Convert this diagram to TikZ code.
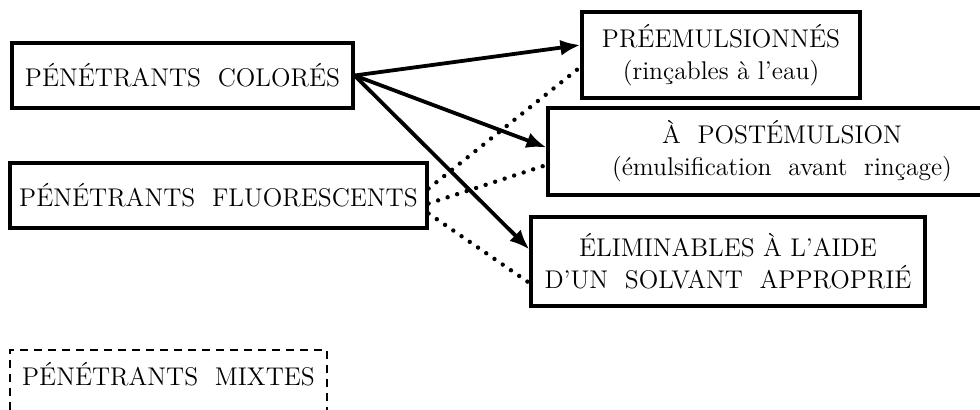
\documentclass[tikz,border=0pt]{standalone}
\usepackage{tikz}
\usetikzlibrary{arrows.meta,positioning}

\begin{document}
\begin{tikzpicture}[
  x=0.5pt, y=-0.5pt,
  box/.style={draw, line width=1.6pt, align=center, inner sep=0pt,
              font=\fontsize{12.8}{16}\selectfont},
  mixbox/.style={draw, dashed, dash pattern=on 4pt off 3pt, line width=1.3pt,
              inner sep=0pt, font=\fontsize{12.8}{16}\selectfont},
  arr/.style={line width=1.9pt, -{Latex[length=10pt,width=8pt]}},
  dots/.style={line width=2.2pt, line cap=round, dash pattern=on 0pt off 5pt}
]
\useasboundingbox (0,0) rectangle (980,410);

\node[box, minimum width=170.5pt, minimum height=32.5pt] (col) at (182.5,75.5) {PÉNÉTRANTS\ \ COLORÉS};
\node[box, minimum width=208.5pt, minimum height=32.5pt] (flu) at (218.5,195.5) {PÉNÉTRANTS\ \ FLUORESCENTS};

\node[box, minimum width=139pt, minimum height=43pt] (pre) at (721,55) {PRÉEMULSIONNÉS\\(rinçables\ à\ l'eau)};
\node[box, minimum width=234pt, minimum height=43.5pt] (post) at (782,151.5) {À\ \ POSTÉMULSION\\(émulsification\ \ avant\ \ rinçage)};
\node[box, minimum width=197pt, minimum height=44.5pt] (eli) at (728,261.5) {ÉLIMINABLES\ À\ L'AIDE\\D'UN\ \ SOLVANT\ \ APPROPRIÉ};

\node[mixbox, minimum width=158.5pt, text height=18pt, text depth=17pt, anchor=base] (mix) at (168.5,386) {PÉNÉTRANTS\ \ MIXTES};

% colorants: traits pleins
\draw[arr] (col.east) -- ([yshift=5pt]pre.west);
\draw[arr] (col.east) -- ([yshift=2pt]post.west);
\draw[arr] (col.east) -- ([yshift=6pt]eli.west);

% fluorescents: pointilles
\draw[dots] ([yshift=3.5pt]flu.east) -- ([yshift=-6pt]pre.west);
\draw[dots] ([yshift=-4pt]flu.east) -- ([yshift=-6.75pt]post.west);
\draw[dots] ([yshift=-9pt]flu.east) -- ([yshift=-10.75pt]eli.west);
\end{tikzpicture}
\end{document}
